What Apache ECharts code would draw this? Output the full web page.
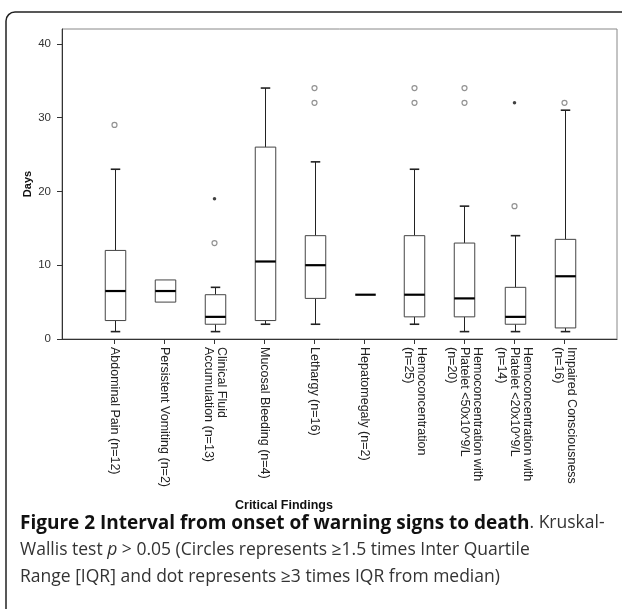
<!DOCTYPE html>
<html>
<head>
<meta charset="utf-8">
<script src="https://cdn.jsdelivr.net/npm/echarts@6/dist/echarts.min.js"></script>
<style>
html, body { margin: 0; padding: 0; background: #fff; }
#chart { width: 622px; height: 609px; }
</style>
</head>
<body>
<div id="chart"></div>
<script>
// categories, left to right
var categories = [
  'Abdominal Pain (n=12)',
  'Persistent Vomiting (n=2)',
  'Clinical Fluid\nAccumulation (n=13)',
  'Mucosal Bleeding (n=4)',
  'Lethargy (n=16)',
  'Hepatomegaly (n=2)',
  'Hemoconcentration\n(n=25)',
  'Hemoconcentration with\nPlatelet <50x10^9/L\n(n=20)',
  'Hemoconcentration with\nPlatelet <20x10^9/L\n(n=14)',
  'Impaired Consciousness\n(n=16)'
];
// box statistics (days)
var lows    = [1, 5, 1, 2, 2, 6, 2, 1, 1, 1];
var q1s     = [2.5, 5, 2, 2.5, 5.5, 6, 3, 3, 2, 1.5];
var medians = [6.5, 6.5, 3, 10.5, 10, 6, 6, 5.5, 3, 8.5];
var q3s     = [12, 8, 6, 26, 14, 6, 14, 13, 7, 13.5];
var highs   = [23, 8, 7, 34, 24, 6, 23, 18, 14, 31];
// outliers: [category index, days]
var circles = [[0, 29], [2, 13], [4, 34], [4, 32], [6, 34], [6, 32], [7, 34], [7, 32], [8, 18], [9, 32]];
var extremes = [[2, 19], [8, 32]];
var yTicks = [0, 10, 20, 30, 40];
var xTicks = [0, 1, 2, 3, 4, 5, 6, 7, 8, 9];

var boxData = categories.map(function (c, i) {
  return [i, lows[i], q1s[i], medians[i], q3s[i], highs[i]];
});

function renderBox(params, api) {
  var x = api.value(0);
  var lo = api.coord([x, api.value(1)]);
  var q1 = api.coord([x, api.value(2)]);
  var md = api.coord([x, api.value(3)]);
  var q3 = api.coord([x, api.value(4)]);
  var hi = api.coord([x, api.value(5)]);
  var band = api.size([1, 0])[0];
  var hw = band * 0.205;
  var cw = band * 0.095;
  var cx = Math.round(lo[0]) + 0.5;
  var kids = [];
  var wStyle = { stroke: '#222', lineWidth: 1 };
  var cStyle = { stroke: '#222', lineWidth: 1.6 };
  if (api.value(5) > api.value(4)) {
    kids.push({ type: 'line', shape: { x1: cx, y1: q3[1], x2: cx, y2: hi[1] }, style: wStyle });
    kids.push({ type: 'line', shape: { x1: cx - cw, y1: hi[1], x2: cx + cw, y2: hi[1] }, style: cStyle });
  }
  if (api.value(1) < api.value(2)) {
    kids.push({ type: 'line', shape: { x1: cx, y1: q1[1], x2: cx, y2: lo[1] }, style: wStyle });
    kids.push({ type: 'line', shape: { x1: cx - cw, y1: lo[1], x2: cx + cw, y2: lo[1] }, style: cStyle });
  }
  if (api.value(4) > api.value(2)) {
    kids.push({
      type: 'rect',
      shape: { x: cx - hw, y: q3[1], width: hw * 2, height: q1[1] - q3[1] },
      style: { fill: '#fff', stroke: '#444', lineWidth: 1 }
    });
  }
  kids.push({ type: 'line', shape: { x1: cx - hw, y1: md[1], x2: cx + hw, y2: md[1] }, style: { stroke: '#000', lineWidth: 2.2 } });
  return { type: 'group', children: kids };
}

var chart = echarts.init(document.getElementById('chart'));
chart.setOption({
  animation: false,
  backgroundColor: '#fff',
  grid: { left: 62, right: 5, top: 29, bottom: 270, show: true, borderColor: '#888', borderWidth: 1 },
  xAxis: {
    type: 'value',
    min: -1.05,
    max: 10.05,
    splitLine: { show: false },
    axisLine: { show: true, onZero: false, lineStyle: { color: '#333', width: 1 } },
    axisTick: { show: true, customValues: xTicks, length: 5, lineStyle: { color: '#333' } },
    axisLabel: {
      customValues: xTicks,
      rotate: -90,
      margin: 8,
      fontFamily: 'Liberation Sans',
      fontSize: 12.5,
      lineHeight: 13,
      color: '#222',
      formatter: function (v) { return categories[Math.round(v)]; }
    }
  },
  yAxis: {
    type: 'value',
    min: 0,
    max: 42,
    name: 'Days',
    nameLocation: 'middle',
    nameRotate: 90,
    nameGap: 29,
    nameMoveOverlap: false,
    nameTextStyle: { fontFamily: 'Liberation Sans', fontWeight: 'bold', fontSize: 11, color: '#111' },
    splitLine: { show: false },
    axisLine: { show: true, onZero: false, lineStyle: { color: '#333', width: 1 } },
    axisTick: { show: true, customValues: yTicks, length: 5, lineStyle: { color: '#333' } },
    axisLabel: { customValues: yTicks, margin: 11, fontFamily: 'Liberation Sans', fontSize: 11.5, color: '#333' }
  },
  series: [
    { type: 'custom', renderItem: renderBox, data: boxData, z: 3 },
    {
      type: 'scatter', data: circles, symbol: 'circle', symbolSize: 5, z: 4,
      itemStyle: { color: '#fff', borderColor: '#777', borderWidth: 1.2 }
    },
    {
      type: 'scatter', data: extremes, symbol: 'circle', symbolSize: 3.5, z: 4,
      itemStyle: { color: '#111' }
    }
  ],
  graphic: [
    {
      type: 'rect', silent: true,
      shape: { x: 6, y: 12, width: 660, height: 660, r: 9 },
      style: { fill: 'none', stroke: '#222', lineWidth: 1.5 }
    },
    {
      type: 'text', left: 235, top: 499,
      style: { text: 'Critical Findings', font: 'bold 12.5px "Liberation Sans"', fill: '#111' }
    },
    {
      type: 'text', left: 20, top: 514,
      style: {
        text: '{b|Figure 2 Interval from onset of warning signs to death}{r|. Kruskal-}\n' +
              '{r|Wallis test }{i|p}{r| > 0.05 (Circles represents \u22651.5 times Inter Quartile}\n' +
              '{r|Range [IQR] and dot represents \u22653 times IQR from median)}',
        rich: {
          b: { fontFamily: 'Open Sans', fontWeight: 'bold', fontSize: 19, lineHeight: 27, fill: '#111' },
          r: { fontFamily: 'Open Sans', fontSize: 17.5, lineHeight: 27, fill: '#333' },
          i: { fontFamily: 'Open Sans', fontStyle: 'italic', fontSize: 17.5, lineHeight: 27, fill: '#333' }
        }
      }
    }
  ]
});
</script>
</body>
</html>
